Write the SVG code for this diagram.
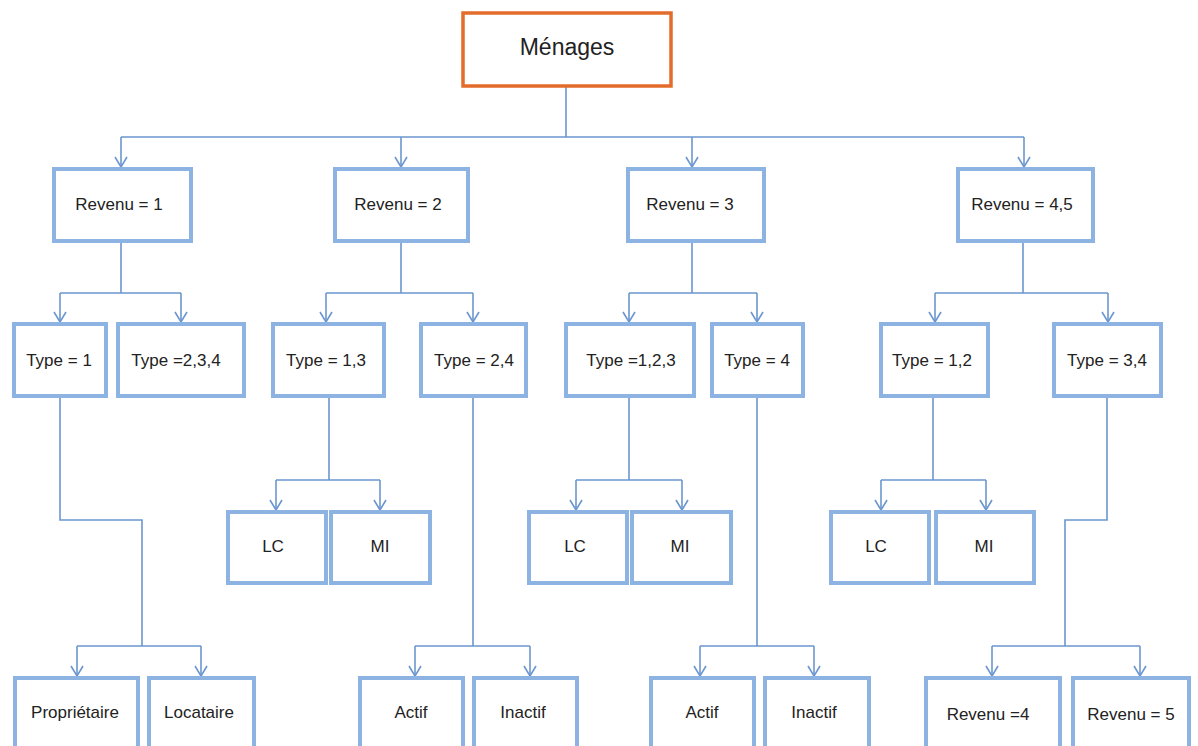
<svg xmlns="http://www.w3.org/2000/svg" width="1198" height="746" viewBox="0 0 1198 746">
<style>
.box{fill:#fff;stroke:#8DB3E2;stroke-width:4}
.root{fill:#fff;stroke:#E46C2A;stroke-width:3.5}
.t{font-family:"Liberation Sans",Arial,sans-serif;font-size:17px;fill:#222;text-anchor:middle;dominant-baseline:central}
.c{fill:none;stroke:#6B96CF;stroke-width:1.6}
</style>
<defs>
<marker id="ar" markerWidth="14" markerHeight="16" viewBox="-12 -8 14 16" refX="0" refY="0" orient="auto" markerUnits="userSpaceOnUse">
<path d="M-10,-6 L0,0 L-10,6" fill="none" stroke="#6B96CF" stroke-width="1.6"/>
</marker>
</defs>
<rect width="1198" height="746" fill="#fff"/>
<g id="connectors">
<path class="c" d="M566,86 V137 M121,137 H1024"/>
<path class="c" d="M121,137 V167" marker-end="url(#ar)"/>
<path class="c" d="M401,137 V167" marker-end="url(#ar)"/>
<path class="c" d="M692,137 V167" marker-end="url(#ar)"/>
<path class="c" d="M1024,137 V167" marker-end="url(#ar)"/>
<path class="c" d="M121,242 V293 M60,293 H181"/>
<path class="c" d="M60,293 V322" marker-end="url(#ar)"/>
<path class="c" d="M181,293 V322" marker-end="url(#ar)"/>
<path class="c" d="M401,241 V293 M326,293 H473"/>
<path class="c" d="M326,293 V322" marker-end="url(#ar)"/>
<path class="c" d="M473,293 V322" marker-end="url(#ar)"/>
<path class="c" d="M692,241 V293 M629,293 H757"/>
<path class="c" d="M629,293 V322" marker-end="url(#ar)"/>
<path class="c" d="M757,293 V322" marker-end="url(#ar)"/>
<path class="c" d="M1023,242 V293 M935,293 H1108"/>
<path class="c" d="M935,293 V322" marker-end="url(#ar)"/>
<path class="c" d="M1108,293 V322" marker-end="url(#ar)"/>
<path class="c" d="M329,397 V480 M276,480 H380"/>
<path class="c" d="M276,480 V510" marker-end="url(#ar)"/>
<path class="c" d="M380,480 V510" marker-end="url(#ar)"/>
<path class="c" d="M629,397 V480 M576,480 H682"/>
<path class="c" d="M576,480 V510" marker-end="url(#ar)"/>
<path class="c" d="M682,480 V510" marker-end="url(#ar)"/>
<path class="c" d="M933,397 V480 M881,480 H986"/>
<path class="c" d="M881,480 V510" marker-end="url(#ar)"/>
<path class="c" d="M986,480 V510" marker-end="url(#ar)"/>
<path class="c" d="M60,397 V520 H142 V646 M77,646 H201"/>
<path class="c" d="M77,646 V676" marker-end="url(#ar)"/>
<path class="c" d="M201,646 V676" marker-end="url(#ar)"/>
<path class="c" d="M473,397 V646 M415,646 H530"/>
<path class="c" d="M415,646 V676" marker-end="url(#ar)"/>
<path class="c" d="M530,646 V676" marker-end="url(#ar)"/>
<path class="c" d="M757,397 V646 M700,646 H814"/>
<path class="c" d="M700,646 V676" marker-end="url(#ar)"/>
<path class="c" d="M814,646 V676" marker-end="url(#ar)"/>
<path class="c" d="M1107,397 V520 H1065 V646 M992,646 H1140"/>
<path class="c" d="M992,646 V676" marker-end="url(#ar)"/>
<path class="c" d="M1140,646 V676" marker-end="url(#ar)"/>
</g>
<g id="menages"><rect class="root" x="463" y="13" width="208" height="73"/><text class="t" x="567" y="47" style="font-size:23px">Ménages</text></g>
<g id="rev1"><rect class="box" x="54" y="169" width="137" height="72"/><text class="t" x="119" y="204">Revenu = 1</text></g>
<g id="rev2"><rect class="box" x="335" y="169" width="133" height="72"/><text class="t" x="398" y="204">Revenu = 2</text></g>
<g id="rev3"><rect class="box" x="628" y="169" width="136" height="72"/><text class="t" x="690" y="204">Revenu = 3</text></g>
<g id="rev45"><rect class="box" x="958" y="169" width="135" height="72"/><text class="t" x="1022" y="204">Revenu = 4,5</text></g>
<g id="type1"><rect class="box" x="14" y="324" width="92" height="72"/><text class="t" x="59" y="360">Type = 1</text></g>
<g id="type234"><rect class="box" x="118" y="324" width="126" height="72"/><text class="t" x="176" y="360">Type =2,3,4</text></g>
<g id="type13"><rect class="box" x="273" y="324" width="111" height="72"/><text class="t" x="326" y="360">Type = 1,3</text></g>
<g id="type24"><rect class="box" x="421" y="324" width="105" height="72"/><text class="t" x="474" y="360">Type = 2,4</text></g>
<g id="type123"><rect class="box" x="566" y="324" width="128" height="72"/><text class="t" x="631" y="360">Type =1,2,3</text></g>
<g id="type4"><rect class="box" x="712" y="324" width="91" height="72"/><text class="t" x="757" y="360">Type = 4</text></g>
<g id="type12"><rect class="box" x="881" y="324" width="107" height="72"/><text class="t" x="932" y="360">Type = 1,2</text></g>
<g id="type34"><rect class="box" x="1054" y="324" width="107" height="72"/><text class="t" x="1107" y="360">Type = 3,4</text></g>
<g id="lc1"><rect class="box" x="228" y="512" width="98" height="71"/><text class="t" x="273" y="546">LC</text></g>
<g id="mi1"><rect class="box" x="331" y="512" width="99" height="71"/><text class="t" x="380" y="546">MI</text></g>
<g id="lc2"><rect class="box" x="529" y="512" width="98" height="71"/><text class="t" x="575" y="546">LC</text></g>
<g id="mi2"><rect class="box" x="632" y="512" width="99" height="71"/><text class="t" x="680" y="546">MI</text></g>
<g id="lc3"><rect class="box" x="831" y="512" width="98" height="71"/><text class="t" x="876" y="546">LC</text></g>
<g id="mi3"><rect class="box" x="936" y="512" width="98" height="71"/><text class="t" x="984" y="546">MI</text></g>
<g id="proprietaire"><rect class="box" x="15" y="678" width="123" height="80"/><text class="t" x="75" y="712">Propriétaire</text></g>
<g id="locataire"><rect class="box" x="149" y="678" width="105" height="80"/><text class="t" x="199" y="712">Locataire</text></g>
<g id="actif1"><rect class="box" x="360" y="678" width="103" height="80"/><text class="t" x="411" y="712">Actif</text></g>
<g id="inactif1"><rect class="box" x="474" y="678" width="103" height="80"/><text class="t" x="523" y="712">Inactif</text></g>
<g id="actif2"><rect class="box" x="651" y="678" width="103" height="80"/><text class="t" x="702" y="712">Actif</text></g>
<g id="inactif2"><rect class="box" x="765" y="678" width="104" height="80"/><text class="t" x="814" y="712">Inactif</text></g>
<g id="revenu4"><rect class="box" x="926" y="678" width="134" height="80"/><text class="t" x="988" y="714">Revenu =4</text></g>
<g id="revenu5"><rect class="box" x="1073" y="678" width="116" height="80"/><text class="t" x="1131" y="714">Revenu = 5</text></g>
</svg>
